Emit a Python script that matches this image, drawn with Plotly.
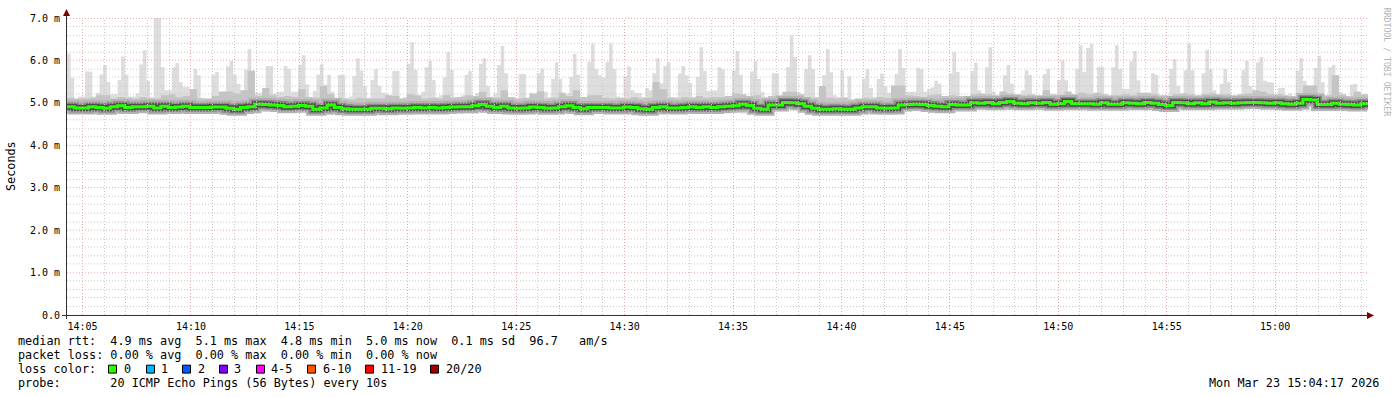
import pandas as pd
import plotly.graph_objects as go

# ---------------- data (ms) ----------------
start_time = "2026-03-23 14:04:17"
span_seconds = 3600

# max ping per 10 s step (top of light smoke)
rtt_max = [
    6.16, 5.59, 5.1, 5.15, 5.15, 5.74, 5.74, 5.15, 5.23, 5.67,
    5.89, 5.49, 5.2, 5.2, 5.54, 6.09, 5.66, 5.15, 5.15, 5.22,
    5.91, 6.24, 5.52, 5.05, 7.0, 7.0, 5.84, 5.3, 5.3, 5.84,
    5.94, 5.49, 5.38, 5.38, 5.32, 5.8, 5.65, 5.12, 5.1, 5.1,
    5.66, 5.73, 5.12, 5.26, 5.86, 5.99, 5.66, 5.45, 5.12, 5.78,
    6.27, 5.77, 5.24, 5.24, 5.22, 5.87, 5.87, 5.22, 5.26, 5.26,
    5.87, 5.8, 5.26, 5.26, 5.9, 6.12, 5.43, 5.1, 5.28, 5.67,
    5.91, 5.43,
    5.66, 5.26, 5.08, 5.66, 5.66, 5.1, 5.15, 5.63, 6.05, 5.76,
    5.4, 5.12, 5.54, 5.8, 5.4, 5.24, 5.22, 5.1, 5.75, 5.75,
    5.1, 5.14, 5.92, 6.43, 5.78, 5.14, 5.26, 5.84, 5.99, 5.54,
    5.14, 5.18, 5.6, 6.2, 5.78, 5.14, 5.14, 5.18, 5.66, 5.75,
    5.14, 5.23, 5.92, 6.05, 5.4, 5.14, 5.22, 5.89, 6.34, 5.7,
    5.14, 5.14, 5.08, 5.68, 5.68, 5.1, 5.24, 5.08, 5.7, 5.81,
    5.26, 5.14, 5.56, 5.96, 5.57, 5.14, 5.22, 5.61, 6.15, 5.66,
    5.1, 5.12,
    5.97, 6.4, 5.8, 5.65, 5.59, 5.97, 6.4, 5.8, 5.15, 5.12,
    5.63, 5.86, 5.3, 5.24, 5.23, 5.14, 5.35, 5.3, 5.7, 6.05,
    5.46, 5.87, 5.96, 5.14, 5.14, 5.69, 5.87, 5.65, 5.47, 5.14,
    5.61, 6.31, 5.75, 5.28, 5.3, 5.29, 5.84, 5.79, 5.14, 5.14,
    5.77, 6.22, 5.66, 5.14, 5.16, 5.74, 5.98, 5.56, 5.26, 5.14,
    5.14, 5.7, 5.7, 5.14, 5.22, 5.84, 6.59, 6.08, 5.26, 5.14,
    5.8, 6.12, 5.8, 5.14, 5.08, 5.65, 6.27, 5.72, 5.18, 5.14,
    5.77, 5.14,
    5.63, 5.08, 5.1, 5.1, 5.57, 5.79, 5.35, 5.14, 5.56, 5.69,
    5.39, 5.24, 5.14, 5.68, 6.27, 5.82, 5.26, 5.26, 5.26, 5.82,
    5.79, 5.26, 5.33, 5.36, 5.52, 5.45, 5.14, 5.1, 5.69, 6.2,
    5.73, 5.14, 5.1, 5.14, 5.75, 5.94, 5.3, 5.14, 5.84, 6.31,
    5.27, 5.14, 5.14, 5.65, 5.89, 5.45, 5.14, 5.14, 5.3, 5.77,
    5.66, 5.14, 5.12, 5.16, 5.68, 5.8, 5.14, 5.1, 5.53, 6.0,
    5.53, 5.18, 5.2, 5.8, 6.36, 5.73, 6.29, 6.39, 5.22, 5.85,
    5.85, 5.14,
    5.14, 5.84, 6.36, 5.8, 5.33, 5.33, 5.98, 6.22, 5.53, 5.14,
    5.22, 5.18, 5.7, 5.66, 5.14, 5.18, 5.18, 5.8, 6.03, 5.4,
    5.14, 5.77, 6.4, 5.77, 5.14, 5.18, 5.7, 6.25, 5.8, 5.3,
    5.14, 5.45, 5.8, 5.49, 5.14, 5.14, 5.14, 5.77, 5.99, 5.4,
    5.27, 5.95, 6.08, 5.52, 5.49, 5.48, 5.14, 5.35, 5.35, 5.14,
    5.22, 5.14, 5.76, 6.06, 5.52, 5.41, 5.41, 5.82, 6.11, 5.49,
    5.14, 5.84, 5.9, 5.65, 5.25, 5.14, 5.14, 5.43, 5.45, 5.22,
    5.14, 5.2,
]

# median rtt per 20 s step
rtt_median = [
    4.91, 4.88, 4.88, 4.91, 4.89, 4.87, 4.91, 4.93, 4.89, 4.91,
    4.91, 4.92, 4.88, 4.92, 4.89, 4.9, 4.92, 4.89, 4.89, 4.89,
    4.9, 4.9, 4.87, 4.85, 4.89, 4.91, 4.97, 4.96, 4.95, 4.94,
    4.91, 4.92, 4.94, 4.92, 4.85, 4.88,
    4.95, 4.89, 4.86, 4.85, 4.85, 4.85, 4.87, 4.87, 4.86, 4.88,
    4.87, 4.88, 4.89, 4.88, 4.89, 4.88, 4.89, 4.9, 4.91, 4.91,
    4.93, 4.96, 4.92, 4.89, 4.92, 4.88, 4.87, 4.88, 4.9, 4.89,
    4.87, 4.88, 4.91, 4.93, 4.89, 4.86,
    4.89, 4.89, 4.89, 4.88, 4.88, 4.9, 4.89, 4.86, 4.85, 4.89,
    4.91, 4.88, 4.88, 4.89, 4.91, 4.89, 4.91, 4.89, 4.91, 4.92,
    4.93, 4.97, 4.94, 4.87, 4.85, 4.95, 4.95, 5.01, 5.0, 4.98,
    4.92, 4.87, 4.85, 4.85, 4.86, 4.85,
    4.85, 4.88, 4.91, 4.91, 4.88, 4.87, 4.88, 4.95, 4.96, 4.97,
    4.96, 4.94, 4.92, 4.91, 4.96, 4.95, 4.95, 5.0, 4.99, 5.01,
    4.98, 5.01, 5.03, 4.99, 4.98, 5.0, 4.99, 5.01, 4.97, 4.98,
    5.03, 4.98, 4.98, 4.98, 4.97, 5.0,
    4.97, 4.97, 5.0, 4.99, 4.98, 5.01, 4.99, 4.96, 4.94, 5.01,
    5.0, 4.98, 5.0, 4.98, 5.02, 4.99, 5.0, 4.99, 5.0, 5.01,
    5.01, 5.0, 4.99, 5.0, 4.98, 4.97, 4.99, 5.08, 5.07, 4.96,
    4.96, 4.99, 4.97, 4.96, 4.95, 4.98,
]

# upper edge of the denser smoke per 20 s step
rtt_upper = [
    5.12, 5.1, 5.1, 5.12, 5.18, 5.18, 5.1, 5.14, 5.12, 5.1,
    5.14, 5.12, 5.1, 5.18, 5.2, 5.14, 5.16, 5.32, 5.1, 5.1,
    5.16, 5.27, 5.27, 5.22, 5.3, 5.75, 5.16, 5.35, 5.18, 5.14,
    5.16, 5.14, 5.32, 5.14, 5.12, 5.4,
    5.2, 5.12, 5.1, 5.08, 5.12, 5.1, 5.1, 5.1, 5.18, 5.16,
    5.1, 5.2, 5.18, 5.1, 5.12, 5.1, 5.18, 5.12, 5.14, 5.18,
    5.16, 5.26, 5.14, 5.12, 5.3, 5.14, 5.1, 5.12, 5.22, 5.27,
    5.1, 5.12, 5.24, 5.16, 5.3, 5.14,
    5.18, 5.18, 5.12, 5.1, 5.12, 5.1, 5.14, 5.1, 5.12, 5.49,
    5.32, 5.12, 5.1, 5.14, 5.12, 5.16, 5.12, 5.14, 5.14, 5.16,
    5.22, 5.2, 5.16, 5.18, 5.12, 5.16, 5.18, 5.26, 5.26, 5.2,
    5.14, 5.12, 5.4, 5.12, 5.1, 5.12,
    5.08, 5.1, 5.12, 5.1, 5.14, 5.12, 5.41, 5.41, 5.18, 5.16,
    5.14, 5.18, 5.2, 5.16, 5.18, 5.16, 5.16, 5.2, 5.22, 5.2,
    5.18, 5.27, 5.22, 5.2, 5.18, 5.2, 5.18, 5.3, 5.2, 5.18,
    5.27, 5.2, 5.24, 5.2, 5.24, 5.2,
    5.18, 5.18, 5.2, 5.18, 5.24, 5.24, 5.2, 5.18, 5.16, 5.2,
    5.22, 5.2, 5.18, 5.2, 5.22, 5.2, 5.2, 5.18, 5.2, 5.22,
    5.3, 5.26, 5.2, 5.2, 5.18, 5.16, 5.2, 5.41, 5.41, 5.2,
    5.18, 5.65, 5.2, 5.16, 5.27, 5.2,
]

# min ping per minute (bottom of light smoke)
rtt_min = [
    4.78, 4.76, 4.77, 4.78, 4.76, 4.77, 4.76, 4.73, 4.76, 4.8,
    4.79, 4.74, 4.72, 4.71, 4.73, 4.74, 4.74, 4.75, 4.75, 4.78,
    4.77, 4.74, 4.75, 4.75, 4.76, 4.74, 4.72, 4.76, 4.77, 4.76,
    4.78, 4.75, 4.8, 4.84, 4.74, 4.72, 4.73, 4.75, 4.8, 4.81,
    4.82, 4.84, 4.85, 4.84, 4.86, 4.85, 4.86, 4.85, 4.84, 4.86,
    4.86, 4.85, 4.87, 4.86, 4.86, 4.85, 4.86, 4.9, 4.83, 4.84,
]

y_ticks = [0, 1, 2, 3, 4, 5, 6, 7]
y_tick_labels = ["0.0", "1.0 m", "2.0 m", "3.0 m", "4.0 m", "5.0 m", "6.0 m", "7.0 m"]
x_tick_times = ["14:05", "14:10", "14:15", "14:20", "14:25", "14:30", "14:35",
                "14:40", "14:45", "14:50", "14:55", "15:00"]

legend_lines = [
    "median rtt:  4.9 ms avg  5.1 ms max  4.8 ms min  5.0 ms now  0.1 ms sd  96.7   am/s",
    "packet loss: 0.00 % avg  0.00 % max  0.00 % min  0.00 % now",
    "loss color:",
    "probe:       20 ICMP Echo Pings (56 Bytes) every 10s",
]
loss_labels = ["0", "1", "2", "3", "4-5", "6-10", "11-19", "20/20"]
loss_colors = ["#26ff00", "#00b8ff", "#0059ff", "#7e00ff", "#ff00ff", "#ff5500", "#ff0000", "#a10000"]
date_text = "Mon Mar 23 15:04:17 2026"
watermark = "RRDTOOL / TOBI OETIKER"

assert len(rtt_max) == 360 and len(rtt_median) == 180 and len(rtt_upper) == 180 and len(rtt_min) == 60

# ---------------- geometry ----------------
W, H = 1397, 397
L, R, T, B = 67, 29, 16, 82
PW, PH = W - L - R, H - T - B
YMAX = 7.0
FONT = "DejaVu Sans Mono"

t0 = pd.Timestamp(start_time)
t_end = t0 + pd.Timedelta(seconds=span_seconds)

def times(step, n):
    return [t0 + pd.Timedelta(seconds=step * i) for i in range(n + 1)]

x10 = times(10, len(rtt_max))
x20 = times(20, len(rtt_median))

def ext(v):
    return list(v) + [v[-1]]

lo10 = [rtt_min[k // 6] for k in range(len(rtt_max))]

def px2paper_x(px):
    return (px - L) / PW

def py2paper_y(py):
    return (T + PH - py) / PH

fig = go.Figure()
common = dict(mode="lines", line_shape="hv", hoverinfo="skip", showlegend=False)
fig.add_trace(go.Scatter(x=x10, y=ext(lo10), line=dict(width=0, color="#dddddd"), **common))
fig.add_trace(go.Scatter(x=x10, y=ext(rtt_max), fill="tonexty", fillcolor="#dddddd",
                         line=dict(width=0, color="#dddddd"), **common))
fig.add_trace(go.Scatter(x=x20, y=ext(rtt_median), line=dict(width=0, color="#c4c4c4"), **common))
fig.add_trace(go.Scatter(x=x20, y=ext(rtt_upper), fill="tonexty", fillcolor="#c4c4c4",
                         line=dict(width=0, color="#c4c4c4"), **common))
for w, c in [(13, "#b2b2b2"), (9, "#8a8a8a"), (6, "#4c4c4c"), (3, "#26ff00")]:
    fig.add_trace(go.Scatter(x=x20, y=ext(rtt_median), line=dict(width=w, color=c), **common))

# ---------------- grid (drawn above the smoke, like rrdtool) ----------------
shapes = []
minor_c, major_c = "#c8c8c8", "#e8a8a8"

def snap(p):
    return int(p) + 0.5

first_min = (t0.ceil("min") - t0).total_seconds()
s = first_min
while s < span_seconds:
    px = snap(L + s / span_seconds * PW)
    tt = t0 + pd.Timedelta(seconds=s)
    major = tt.minute % 5 == 0
    xp = px2paper_x(px)
    shapes.append(dict(type="line", xref="paper", yref="paper", x0=xp, x1=xp, y0=0, y1=1,
                       line=dict(color=major_c if major else minor_c, width=1, dash="1px,2px"),
                       layer="above"))
    s += 60

for i in range(1, 36):
    v = i * 0.2
    py = snap(T + PH - v / YMAX * PH)
    yp = py2paper_y(py)
    major = i % 5 == 0
    shapes.append(dict(type="line", xref="paper", yref="paper", x0=0, x1=1, y0=yp, y1=yp,
                       line=dict(color=major_c if major else minor_c, width=1, dash="1px,2px"),
                       layer="above"))

# axes lines and arrows
axis_c, arrow_c = "#303030", "#800000"
yb = py2paper_y(315.5)
shapes.append(dict(type="line", xref="paper", yref="paper", x0=px2paper_x(62), x1=px2paper_x(1369),
                   y0=yb, y1=yb, line=dict(color=axis_c, width=1), layer="above"))
xl = px2paper_x(66.5)
shapes.append(dict(type="line", xref="paper", yref="paper", x0=xl, x1=xl,
                   y0=py2paper_y(319), y1=py2paper_y(11),
                   line=dict(color=axis_c, width=1), layer="above"))

def pp(x, y):
    return f"{px2paper_x(x)},{py2paper_y(y)}"

shapes.append(dict(type="path", xref="paper", yref="paper", layer="above",
                   path=f"M{pp(1367, 312)} L{pp(1374, 315.5)} L{pp(1367, 319)} Z",
                   fillcolor=arrow_c, line=dict(width=0)))
shapes.append(dict(type="path", xref="paper", yref="paper", layer="above",
                   path=f"M{pp(63, 14)} L{pp(66.5, 7)} L{pp(70, 14)} Z",
                   fillcolor=arrow_c, line=dict(width=0)))

# ---------------- texts ----------------
annotations = []
TXT = 11.8

def ann(x, y, text, size=TXT, xanchor="left", color="#000000", angle=0):
    annotations.append(dict(x=px2paper_x(x), y=py2paper_y(y), xref="paper", yref="paper",
                            text=text.replace(" ", "\u00a0"), showarrow=False,
                            xanchor=xanchor, yanchor="middle", textangle=angle,
                            font=dict(family=FONT, size=size, color=color)))

line_y = [341.5, 355.5, 369.5, 383.5]
for txt, y in zip(legend_lines, line_y):
    ann(16, y, txt)

box_x = [108, 146, 182, 219, 256, 307, 365, 430]
lab_x = [122, 159, 196, 232, 269, 321, 379, 444]
for bx, lx, lab, col in zip(box_x, lab_x, loss_labels, loss_colors):
    shapes.append(dict(type="rect", xref="paper", yref="paper",
                       x0=px2paper_x(bx + 0.5), x1=px2paper_x(bx + 8.5),
                       y0=py2paper_y(365.5), y1=py2paper_y(373.5),
                       fillcolor=col, line=dict(color="#000000", width=1), layer="above"))
    ann(lx, line_y[2], lab)

ann(1381, line_y[3], date_text, xanchor="right")
ann(11, 165, "Seconds", angle=-90, xanchor="center")
ann(1387, 60, watermark, size=8.2, xanchor="center", color="#b4b4b4", angle=90)

fig.update_layout(
    width=W, height=H,
    margin=dict(l=L, r=R, t=T, b=B, pad=0),
    paper_bgcolor="white", plot_bgcolor="white",
    shapes=shapes, annotations=annotations,
    xaxis=dict(type="date", range=[t0, t_end], showgrid=False, zeroline=False, showline=False,
               tickvals=[pd.Timestamp(f"2026-03-23 {t}:00") for t in x_tick_times],
               ticktext=x_tick_times, ticks="", ticklabelstandoff=4,
               tickfont=dict(family=FONT, size=10, color="#000000"), fixedrange=True),
    yaxis=dict(range=[0, YMAX], showgrid=False, zeroline=False, showline=False,
               tickvals=y_ticks, ticktext=y_tick_labels, ticks="", ticklabelstandoff=6,
               tickfont=dict(family=FONT, size=10, color="#000000"), fixedrange=True),
)

fig.write_html("out.html")
